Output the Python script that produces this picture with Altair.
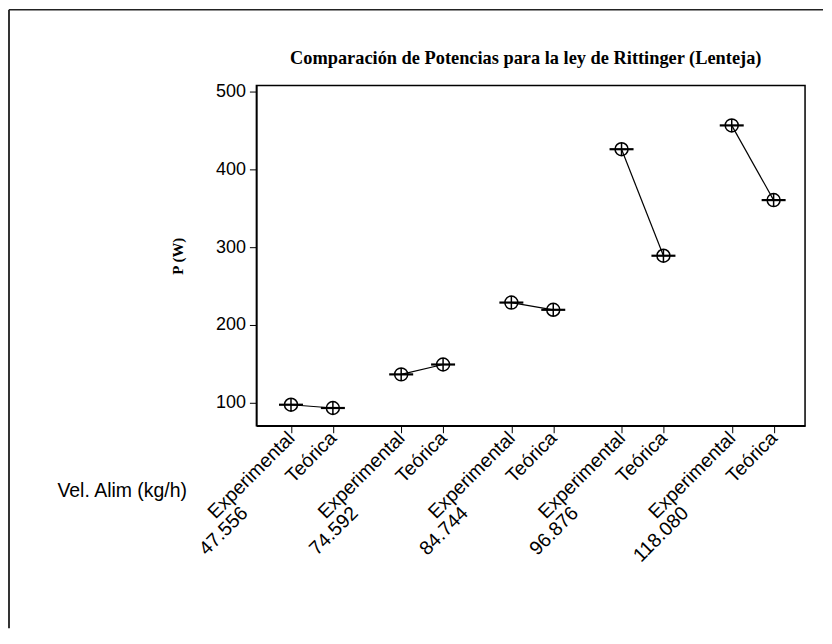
import altair as alt
import pandas as pd

# ---- data ----
vel_labels = ["47.556", "74.592", "84.744", "96.876", "118.080"]
tipos = ["Experimental", "Teórica"]
p_experimental = [97.5, 136.5, 228.8, 425.9, 456.5]
p_teorica = [93.3, 149.2, 219.5, 289.0, 360.5]
y_ticks = [100, 200, 300, 400, 500]

GAP = 2.63  # spacing between velocity groups (category slots)

rows = []
for gi, v in enumerate(vel_labels):
    for ti, (t, vals) in enumerate(zip(tipos, [p_experimental, p_teorica])):
        rows.append({"vel": v, "tipo": t, "pos": round(gi * GAP + ti, 4), "P": vals[gi]})
df = pd.DataFrame(rows)
tick_pos = [float(p) for p in df["pos"]]
group_pos = [round(gi * GAP, 4) for gi in range(len(vel_labels))]
gdf = pd.DataFrame({"gpos": group_pos, "vel": vel_labels, "P": p_experimental})

SANS = "Liberation Sans, Arial, sans-serif"
SERIF = "Liberation Serif, Times New Roman, serif"

xscale = alt.Scale(domain=[-0.826, 12.27], nice=False, zero=False)
yscale = alt.Scale(domain=[70.5, 507.7], nice=False, zero=False)

main_label_expr = "[" + ",".join(f"'{t}'" for t in df["tipo"]) + "][indexof([" + ",".join(str(p) for p in tick_pos) + "], datum.value)]"
group_label_expr = "[" + ",".join(f"'{v}'" for v in vel_labels) + "][indexof([" + ",".join(str(p) for p in group_pos) + "], datum.value)]"

y_enc = alt.Y(
    "P:Q", scale=yscale,
    axis=alt.Axis(values=y_ticks, grid=False, tickSize=7, labelPadding=4,
                  labelFont=SANS, labelFontSize=18, labelColor="black",
                  tickColor="black", domainColor="black", domainWidth=1.5,
                  title="P (W)", titleFont=SERIF, titleFontSize=15,
                  titleFontWeight="bold", titlePadding=30, titleColor="black"),
)

x_main = alt.X(
    "pos:Q", scale=xscale,
    axis=alt.Axis(orient="bottom", values=tick_pos, labelExpr=main_label_expr, labelAngle=-45,
                  labelAlign="right", labelBaseline="middle", labelOverlap=False,
                  labelFlush=False, labelBound=False, grid=False, tickSize=7, labelPadding=2,
                  labelFont=SANS, labelFontSize=19.5, labelColor="black",
                  tickColor="black", domainColor="black", domainWidth=1.5, title=None),
)

x_group = alt.X(
    "gpos:Q", scale=xscale,
    axis=alt.Axis(orient="bottom", values=group_pos, labelExpr=group_label_expr, labelAngle=-45,
                  labelAlign="right", labelBaseline="middle", labelOverlap=False,
                  labelFlush=False, labelBound=False, grid=False, ticks=False, domain=False,
                  offset=82, labelOffset=-47, labelPadding=2,
                  labelFont=SANS, labelFontSize=19.5, labelColor="black",
                  title="Vel. Alim (kg/h)", titleFont=SANS, titleFontSize=19.5,
                  titleFontWeight="normal", titleColor="black", titleAngle=0,
                  titleAlign="right", titleBaseline="middle", titleX=-70, titleY=-17),
)

CIRCLE_CROSS = "M-1,0A1,1,0,1,1,1,0A1,1,0,1,1,-1,0Z M0,-1L0,1"
HBAR = "M-1.85,0L1.85,0"

lines = alt.Chart(df).mark_line(color="black", strokeWidth=1.2).encode(
    x=x_main, y=y_enc, detail="vel:N"
)
hbars = alt.Chart(df).mark_point(
    shape=HBAR, size=169, filled=False, color="black", strokeWidth=2.2, opacity=1
).encode(x=alt.X("pos:Q", scale=xscale, axis=None), y=y_enc)
points = alt.Chart(df).mark_point(
    shape=CIRCLE_CROSS, size=169, filled=False, color="black", strokeWidth=1.5, opacity=1
).encode(x=alt.X("pos:Q", scale=xscale, axis=None), y=y_enc)

group_axis = alt.Chart(gdf).mark_point(opacity=0).encode(x=x_group, y=y_enc)

frame_df = pd.DataFrame({"k": [0]})
frame_left = alt.Chart(frame_df).mark_rule(color="#333333", strokeWidth=2).encode(
    x=alt.value(-248), y=alt.value(-76), y2=alt.value(544)
)
frame_top = alt.Chart(frame_df).mark_rule(color="#222222", strokeWidth=1.5).encode(
    x=alt.value(-248), x2=alt.value(568), y=alt.value(-76)
)

chart = alt.layer(frame_left, frame_top, lines, hbars, points, group_axis).resolve_axis(
    x="independent"
).properties(
    width=550, height=341, padding=0, background="white",
    title=alt.TitleParams(
        "Comparación de Potencias para la ley de Rittinger (Lenteja)",
        font=SERIF, fontSize=18.4, fontWeight="bold", color="black",
        anchor="middle", frame="group", offset=16, dy=75, dx=-5,
    ),
).configure_view(stroke="black", strokeWidth=1.5)

chart.save("out.html", embed_options={"renderer": "svg", "actions": False})
